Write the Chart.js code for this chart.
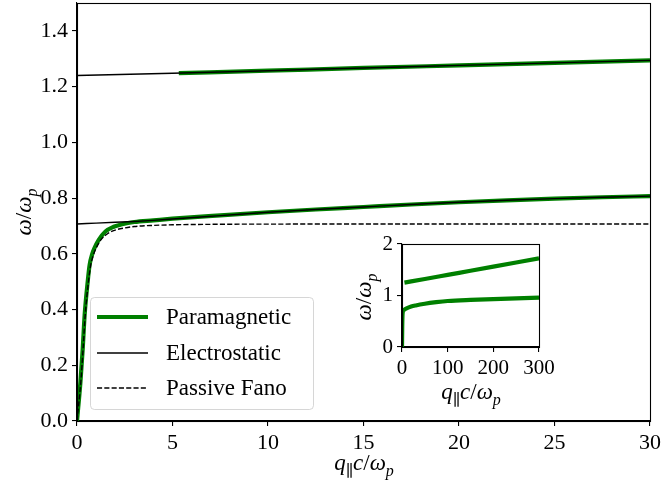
<!DOCTYPE html>
<html>
<head>
<meta charset="utf-8">
<script src="https://cdn.jsdelivr.net/npm/chart.js@4.4.0/dist/chart.umd.min.js"></script>
<style>
  body { margin: 0; background: #fff; }
  #wrap { position: relative; width: 661px; height: 489px; }
  #mainChart { position: absolute; left: 0; top: 0; }
  #insetChart { position: absolute; left: 340px; top: 230px; }
</style>
</head>
<body>
<div id="wrap">
  <canvas id="mainChart" width="661" height="489"></canvas>
  <canvas id="insetChart" width="215" height="190"></canvas>
</div>
<script>
// --- data ---
const paraLowQ = [0, 0.18, 0.3, 0.4, 0.56, 0.66, 0.8, 0.91, 1.14, 1.49, 1.92, 2.36, 3, 4, 5, 7.5, 10, 12.5, 15, 17.5, 20, 22.5, 25, 27.5, 30];
const paraLowW = [0, 0.14, 0.26, 0.38, 0.5, 0.56, 0.6, 0.62, 0.65, 0.68, 0.697, 0.706, 0.714, 0.72, 0.726, 0.738, 0.749, 0.759, 0.768, 0.777, 0.785, 0.792, 0.798, 0.803, 0.807];
const paraUpQ = [5.33, 10, 15, 20, 25, 30];
const paraUpW = [1.248, 1.257, 1.267, 1.276, 1.285, 1.294];

const elecLowQ = [0, 1, 2, 3, 4, 5, 7.5, 10, 12.5, 15, 17.5, 20, 22.5, 25, 27.5, 30];
const elecLowW = [0.707, 0.71, 0.713, 0.716, 0.72, 0.725, 0.737, 0.749, 0.759, 0.768, 0.777, 0.785, 0.792, 0.798, 0.803, 0.807];
const elecUpQ = [0, 5, 10, 15, 20, 25, 30];
const elecUpW = [1.240, 1.248, 1.257, 1.267, 1.276, 1.285, 1.294];

const fanoQ = [0, 0.2, 0.32, 0.43, 0.6, 0.72, 0.88, 1.0, 1.25, 1.6, 2.0, 2.5, 3, 4, 5, 7.5, 10, 15, 20, 25, 30];
const fanoW = [0, 0.14, 0.26, 0.38, 0.5, 0.56, 0.6, 0.62, 0.65, 0.672, 0.685, 0.693, 0.698, 0.702, 0.704, 0.706, 0.7065, 0.707, 0.707, 0.707, 0.707];

const insetLowQ = [0, 0.5, 1, 2, 3, 5, 10, 20, 30, 50, 75, 100, 150, 200, 250, 300];
const insetLowW = [0, 0.4, 0.6, 0.69, 0.71, 0.725, 0.75, 0.785, 0.807, 0.84, 0.87, 0.893, 0.915, 0.93, 0.945, 0.957];
const insetUpQ = [5.33, 50, 100, 150, 200, 250, 300];
const insetUpW = [1.25, 1.32, 1.40, 1.48, 1.56, 1.64, 1.72];

const xTicks = [0, 5, 10, 15, 20, 25, 30];
const yTicks = [0, 0.2, 0.4, 0.6, 0.8, 1.0, 1.2, 1.4];
const insetXTicks = [0, 100, 200, 300];
const insetYTicks = [0, 1, 2];

const legendLabels = ["Paramagnetic", "Electrostatic", "Passive Fano"];

const serif = "'Liberation Serif', 'DejaVu Serif', serif";
Chart.defaults.font.family = serif;
Chart.defaults.color = "#000";

function pts(q, w) {
    return q.map((x, i) => ({ x: x, y: w[i] }));
}

function fontFor(p, size) {
    const s = p.sub ? Math.round(size * 0.7) : size;
    return (p.it ? "italic " : "") + s + "px " + serif;
}

function drawMath(ctx, parts, cx, cy, size, rot) {
    ctx.save();
    ctx.translate(cx, cy);
    if (rot) ctx.rotate(rot);
    let w = 0;
    parts.forEach(p => { ctx.font = fontFor(p, size); w += ctx.measureText(p.t).width; });
    let x = -w / 2;
    ctx.fillStyle = "#000";
    ctx.textBaseline = "alphabetic";
    parts.forEach(p => {
        ctx.font = fontFor(p, size);
        ctx.fillText(p.t, x, p.sub ? size * 0.25 : 0);
        x += ctx.measureText(p.t).width;
    });
    ctx.restore();
}

const xTitle = [{ t: "q", it: true }, { t: "\u2225", sub: true }, { t: "c", it: true }, { t: "/" }, { t: "\u03c9", it: true }, { t: "p", it: true, sub: true }];
const yTitle = [{ t: "\u03c9", it: true }, { t: "/" }, { t: "\u03c9", it: true }, { t: "p", it: true, sub: true }];

// frame + axis titles
function framePlugin(opts) {
    return {
        id: "frame",
        afterDatasetsDraw(chart) {
            const a = chart.chartArea;
            const ctx = chart.ctx;
            ctx.save();
            ctx.strokeStyle = "#000";
            ctx.lineWidth = 1.1;
            ctx.strokeRect(Math.round(a.left) + 0.5, Math.round(a.top) + 0.5, Math.round(a.right - a.left), Math.round(a.bottom - a.top));
            ctx.restore();
        },
        afterDraw(chart) {
            const ctx = chart.ctx;
            drawMath(ctx, xTitle, opts.xt[0], opts.xt[1], opts.size);
            drawMath(ctx, yTitle, opts.yt[0], opts.yt[1], opts.size, -Math.PI / 2);
        }
    };
}

const legendPlugin = {
    id: "customLegend",
    afterDraw(chart) {
        const ctx = chart.ctx;
        ctx.save();
        const x0 = 90, y0 = 297, w = 223, h = 112, r = 4;
        ctx.beginPath();
        ctx.roundRect(x0 + 0.5, y0 + 0.5, w, h, r);
        ctx.fillStyle = "rgba(255,255,255,0.8)";
        ctx.fill();
        ctx.strokeStyle = "rgba(204,204,204,0.8)";
        ctx.lineWidth = 1;
        ctx.stroke();
        const rows = [317, 353, 388];
        const styles = [
            { color: "#008000", width: 4.2, dash: [] },
            { color: "#000", width: 1.4, dash: [] },
            { color: "#000", width: 1.4, dash: [5.1, 2.2] }
        ];
        legendLabels.forEach((lab, i) => {
            const s = styles[i];
            ctx.beginPath();
            ctx.setLineDash(s.dash);
            ctx.strokeStyle = s.color;
            ctx.lineWidth = s.width;
            ctx.moveTo(97, rows[i]);
            ctx.lineTo(148, rows[i]);
            ctx.stroke();
            ctx.setLineDash([]);
            ctx.fillStyle = "#000";
            ctx.font = "23px " + serif;
            ctx.textBaseline = "middle";
            ctx.fillText(lab, 166, rows[i] + 1);
        });
        ctx.restore();
    }
};

function axisOpts(min, max, tickVals, fmt, size, fixed, isY) {
    return {
        type: "linear",
        min: min,
        max: max,
        afterBuildTicks: scale => { scale.ticks = tickVals.map(v => ({ value: v })); },
        afterFit: scale => {
            if (isY) { scale.width = fixed; scale.paddingTop = 0; scale.paddingBottom = 0; }
            else { scale.height = fixed; scale.paddingLeft = 0; scale.paddingRight = 0; }
        },
        grid: { drawOnChartArea: false, drawTicks: true, tickLength: 5, color: "#000", lineWidth: 1.1 },
        border: { display: true, color: "#000", width: 1.1 },
        ticks: { font: { size: size }, padding: 4, maxRotation: 0, autoSkip: false, callback: fmt, color: "#000" }
    };
}

const lineBase = { pointRadius: 0, fill: false, cubicInterpolationMode: "monotone" };

new Chart(document.getElementById("mainChart"), {
    type: "line",
    data: {
        datasets: [
            Object.assign({ label: legendLabels[2], data: pts(fanoQ, fanoW), borderColor: "#000", borderWidth: 1.4, borderDash: [5.1, 2.2], order: 0 }, lineBase),
            Object.assign({ label: legendLabels[1], data: pts(elecLowQ, elecLowW), borderColor: "#000", borderWidth: 1.4, order: 1 }, lineBase),
            Object.assign({ label: legendLabels[1], data: pts(elecUpQ, elecUpW), borderColor: "#000", borderWidth: 1.4, order: 1 }, lineBase),
            Object.assign({ label: legendLabels[0], data: pts(paraLowQ, paraLowW), borderColor: "#008000", borderWidth: 4.2, order: 2 }, lineBase),
            Object.assign({ label: legendLabels[0], data: pts(paraUpQ, paraUpW), borderColor: "#008000", borderWidth: 4.2, order: 2 }, lineBase)
        ]
    },
    options: {
        responsive: false,
        animation: false,
        devicePixelRatio: 1,
        layout: { padding: { top: 3, right: 11, left: 0, bottom: 0 } },
        plugins: { legend: { display: false }, tooltip: { enabled: false } },
        scales: {
            x: axisOpts(0, 30, xTicks, v => String(v), 22, 68, false),
            y: axisOpts(0, 1.5, yTicks, v => v.toFixed(1), 22, 77, true)
        }
    },
    plugins: [framePlugin({ xt: [364, 470], yt: [31, 212], size: 23 }), legendPlugin]
});

new Chart(document.getElementById("insetChart"), {
    type: "line",
    data: {
        datasets: [
            Object.assign({ label: legendLabels[0], data: pts(insetLowQ, insetLowW), borderColor: "#008000", borderWidth: 4.2 }, lineBase),
            Object.assign({ label: legendLabels[0], data: pts(insetUpQ, insetUpW), borderColor: "#008000", borderWidth: 4.2 }, lineBase)
        ]
    },
    options: {
        responsive: false,
        animation: false,
        devicePixelRatio: 1,
        layout: { padding: { top: 14, right: 16, left: 0, bottom: 0 } },
        plugins: { legend: { display: false }, tooltip: { enabled: false } },
        scales: {
            x: axisOpts(0, 300, insetXTicks, v => String(v), 21, 73, false),
            y: axisOpts(0, 2, insetYTicks, v => String(v), 21, 62, true)
        }
    },
    plugins: [framePlugin({ xt: [131, 169], yt: [31, 67], size: 23 })]
});
</script>
</body>
</html>
